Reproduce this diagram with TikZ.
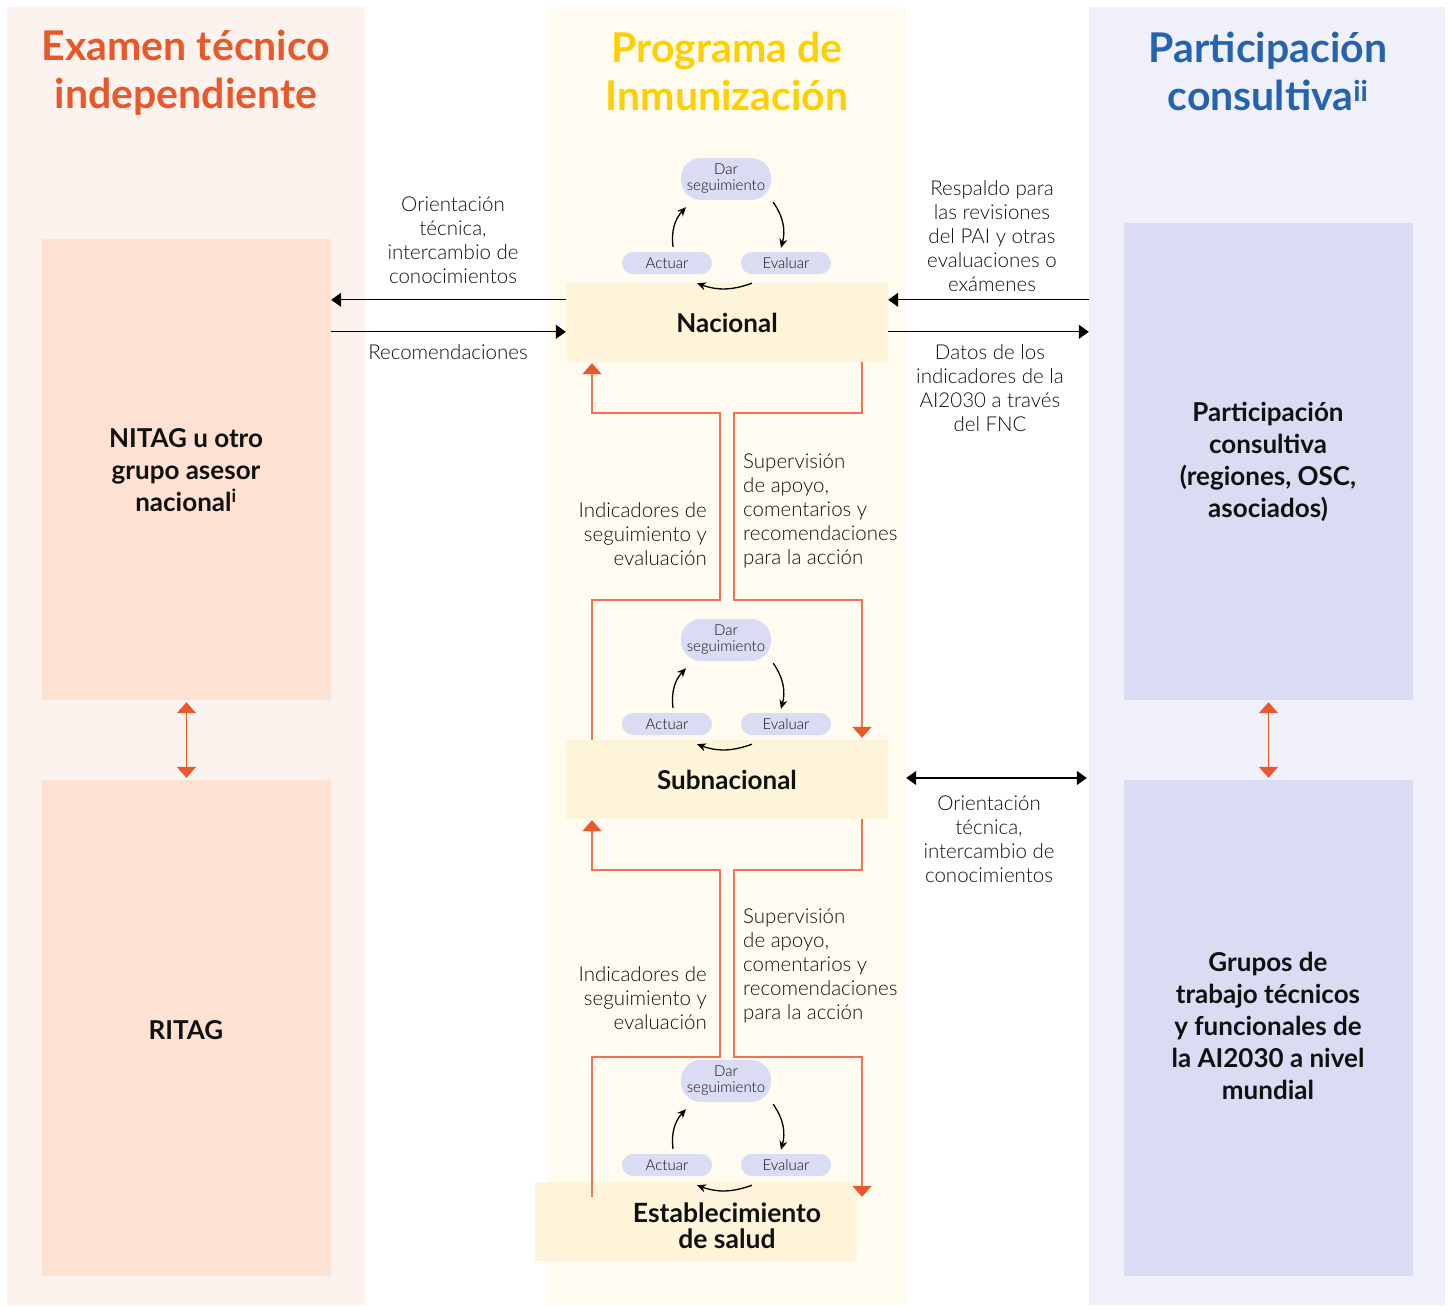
\documentclass[tikz,border=0pt]{standalone}
\usepackage{fontspec}
\setmainfont{Lato}
\newfontfamily\lightfont{Lato Light}
\usetikzlibrary{arrows.meta,calc}
\definecolor{leftbg}{HTML}{FDF3EE}
\definecolor{leftbox}{HTML}{FDE1D2}
\definecolor{midbg}{HTML}{FFFBF0}
\definecolor{midbox}{HTML}{FEF4DA}
\definecolor{rightbg}{HTML}{EFF0FA}
\definecolor{rightbox}{HTML}{D9DCF2}
\definecolor{pillc}{HTML}{D9DCF2}
\definecolor{orangeT}{HTML}{E8582A}
\definecolor{yellowT}{HTML}{FFD000}
\definecolor{blueT}{HTML}{2563AE}
\definecolor{oline}{HTML}{F07352}
\definecolor{otip}{HTML}{E8582A}
\definecolor{txt}{HTML}{111111}
\begin{document}
\begin{tikzpicture}[x=1pt,y=-1pt,
  lbl/.style={font=\lightfont\fontsize{20.5}{24}\selectfont, text=txt, align=center, inner sep=0pt},
  lblr/.style={lbl, align=right},
  lbll/.style={lbl, align=left},
  title/.style={font=\bfseries\fontsize{41}{48}\selectfont, align=center, inner sep=0pt},
  boxtxt/.style={font=\bfseries\fontsize{26}{32}\selectfont, text=txt, align=center, inner sep=0pt},
  pill/.style={fill=pillc, rounded corners=11pt, font=\lightfont\fontsize{15}{16}\selectfont, text=txt, align=center, inner sep=0pt, minimum width=90pt, minimum height=22pt},
  cyc/.style={-{Stealth[length=9pt,width=8pt]}, line width=1.3pt, black},
  barrow/.style={-{Triangle[length=10pt,width=14pt]}, line width=1.3pt, black},
  bdarrow/.style={{Triangle[length=10pt,width=14pt]}-{Triangle[length=10pt,width=14pt]}, line width=1.3pt, black},
  oarrow/.style={draw=oline, line width=1.8pt, -{Triangle[length=11pt,width=19pt,color=otip]}},
  odarrow/.style={draw=otip, line width=1.8pt, {Triangle[length=11pt,width=19pt]}-{Triangle[length=11pt,width=19pt]}}
]
\useasboundingbox (0,0) rectangle (1448,1306);
\fill[white] (0,0) rectangle (1448,1306);
% columns
\fill[leftbg] (7,7) rectangle (365,1305);
\fill[midbg] (548,7) rectangle (906,1305);
\fill[rightbg] (1089,7) rectangle (1445,1305);

% titles
\node[title, text=orangeT] (t1) at (186,72.5) {Examen técnico\\independiente};
\node[title, text=yellowT] (t2) at (727,71) {Programa de\\Inmunización};
\node[title, text=blueT] (t3) at (1268,71) {Participación\\consultiva\textsuperscript{ii}};

% side boxes
\node[fill=leftbox, minimum width=289pt, minimum height=461pt, inner sep=0pt] (nitag) at (186.5,469.5) {};
\node[boxtxt] (nitagt) at (186,470) {NITAG u otro\\grupo asesor\\nacional\textsuperscript{i}};
\node[fill=leftbox, minimum width=289pt, minimum height=496pt, inner sep=0pt] (ritag) at (186.5,1028) {};
\node[boxtxt] (ritagt) at (186,1030) {RITAG};
\node[fill=rightbox, minimum width=289pt, minimum height=477pt, inner sep=0pt] (part) at (1268.5,461.5) {};
\node[boxtxt] (partt) at (1268,462) {Participación\\consultiva\\(regiones, OSC,\\asociados)};
\node[fill=rightbox, minimum width=289pt, minimum height=496pt, inner sep=0pt] (grp) at (1268.5,1028) {};
\node[boxtxt] (grpt) at (1268,1026) {Grupos de\\trabajo técnicos\\y funcionales de\\la AI2030 a nivel\\mundial};

% middle boxes
\node[fill=midbox, minimum width=322pt, minimum height=79pt, inner sep=0pt, boxtxt] (nac) at (727,322.5) {Nacional};
\node[fill=midbox, minimum width=322pt, minimum height=79pt, inner sep=0pt, boxtxt] (sub) at (727,779.5) {Subnacional};
\node[fill=midbox, minimum width=322pt, minimum height=79pt, inner sep=0pt] (estbox) at (696,1221.5) {};
\node[boxtxt, font=\bfseries\fontsize{26.5}{26}\selectfont] (est) at (727,1226) {Establecimiento\\de salud};

% helper x coordinates
\coordinate (xl) at (592,0);
\coordinate (xr) at (862,0);

% orange connectors
\draw[oarrow] (sub.north -| xl) -- (592,600) -- (720,600) -- (720,413) -- (592,413) -- ($(nac.south -| xl)+(0,1)$);
\draw[oarrow] (nac.south -| xr) -- (862,413) -- (734,413) -- (734,600) -- (862,600) -- ($(sub.north -| xr)+(0,-2)$);
\draw[oarrow] ($(estbox.north -| xl)+(0,15)$) -- (592,1057) -- (720,1057) -- (720,870) -- (592,870) -- ($(sub.south -| xl)+(0,1)$);
\draw[oarrow] (sub.south -| xr) -- (862,870) -- (734,870) -- (734,1057) -- (862,1057) -- ($(estbox.north -| xr)+(0,15)$);

% orange vertical double arrows
\draw[odarrow] ($(nitag.south)+(0,2)$) -- ($(ritag.north)+(0,-2)$);
\draw[odarrow] ($(part.south)+(0,2)$) -- ($(grp.north)+(0,-2)$);

% black arrows
\draw[barrow] ($(nac.north west)+(0,17)$) -- (nitag.east |- {$(nac.north west)+(0,17)$});
\draw[barrow] ($(nitag.east |- nac.north west)+(0,49)$) -- ($(nac.north west)+(0,49)$);
\draw[barrow] ($(part.west |- nac.north east)+(-35,17)$) -- ($(nac.north east)+(0,17)$);
\draw[barrow] ($(nac.north east)+(0,49)$) -- ($(part.west |- nac.north east)+(-35,49)$);
\draw[bdarrow] ($(sub.east)+(18,-1.5)$) -- ($(grp.west |- sub.east)+(-37,-1.5)$);

% labels
\node[lbl] (l1) at (453,240) {Orientación\\técnica,\\intercambio de\\conocimientos};
\node[lbl] (l2) at (448,352) {Recomendaciones};
\node[lbl] (l3) at (992,236) {Respaldo para\\las revisiones\\del PAI y otras\\evaluaciones o\\exámenes};
\node[lbl] (l4) at (990,388) {Datos de los\\indicadores de la\\AI2030 a través\\del FNC};
\node[lbl] (l5) at (989,839) {Orientación\\técnica,\\intercambio de\\conocimientos};
\node[lblr, anchor=east] (l6) at (707,534) {Indicadores de\\seguimiento y\\evaluación};
\node[lbll, anchor=west] (l7) at (743,511) {Supervisión\\de apoyo,\\comentarios y\\recomendaciones\\para la acción};
\node[lblr, anchor=east] (l8) at (707,998) {Indicadores de\\seguimiento y\\evaluación};
\node[lbll, anchor=west] (l9) at (743,966) {Supervisión\\de apoyo,\\comentarios y\\recomendaciones\\para la acción};

% cycles
\foreach \k/\dy in {1/0,2/461,3/902} {
  \node[pill, minimum height=42pt, rounded corners=20pt] (dar\k) at (726,179+\dy) {Dar\\seguimiento};
  \node[pill] (act\k) at (667,263+\dy) {Actuar};
  \node[pill] (eva\k) at (786,263+\dy) {Evaluar};
  \draw[cyc] ($(dar\k.south east)+(2,2)$) to[bend left=25] ($(eva\k.north)+(-5,-4)$);
  \draw[cyc] ($(eva\k.south)+(-34,9)$) to[bend left=20] ($(act\k.south)+(30,9)$);
  \draw[cyc] ($(act\k.north)+(6,-5)$) to[bend left=25] ($(dar\k.south)+(-40,7)$);
}
\end{tikzpicture}
\end{document}
